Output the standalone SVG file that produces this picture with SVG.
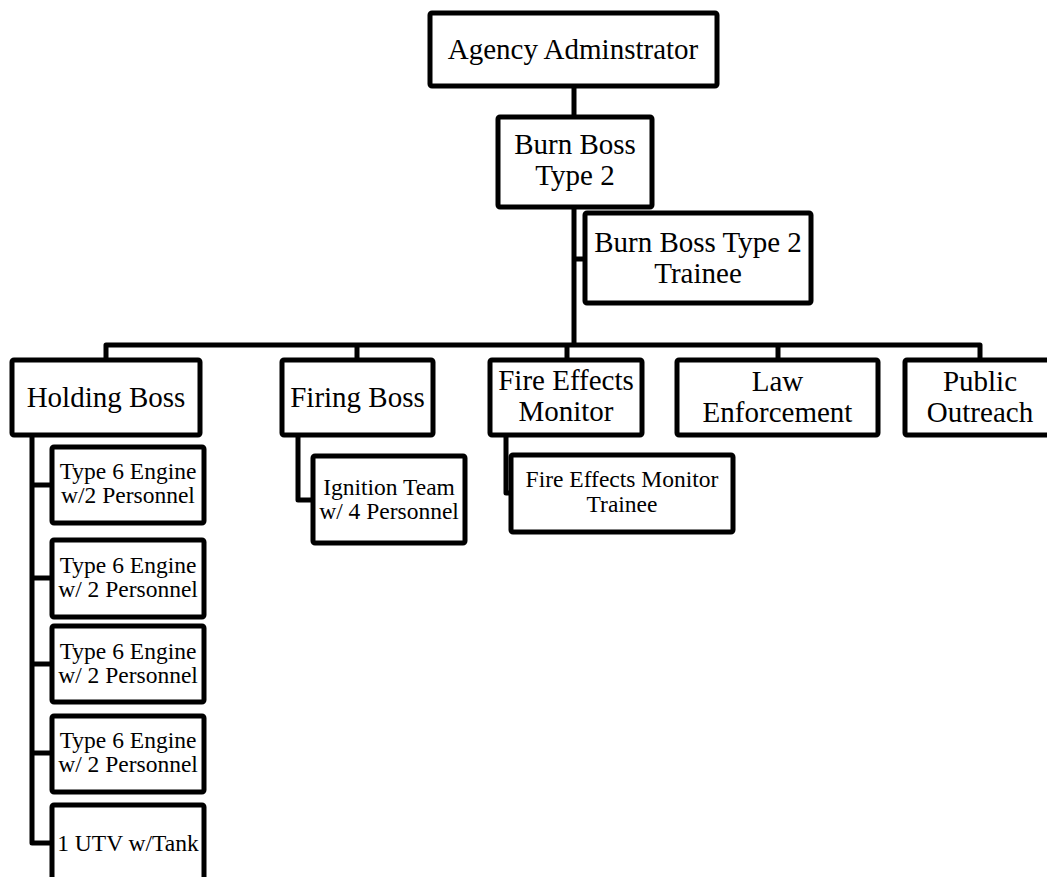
<svg xmlns="http://www.w3.org/2000/svg" width="1047" height="877" viewBox="0 0 1047 877">
<style>
.box{fill:#fff;stroke:#000;stroke-width:5;stroke-linejoin:round}
.ln{fill:none;stroke:#000;stroke-width:5;stroke-linejoin:round}
.t{font-family:"Liberation Serif","Times New Roman",serif;fill:#000;text-anchor:middle}
.big{font-size:29px}
.sm{font-size:23.5px}
</style>
<rect width="1047" height="877" fill="#fff"/>
<g id="connectors">
<path class="ln" d="M574 86 V345"/>
<path class="ln" d="M574 259 H587"/>
<path class="ln" d="M106 360 V345 H980 V360"/>
<path class="ln" d="M357 345 V360"/>
<path class="ln" d="M567 345 V360"/>
<path class="ln" d="M778 345 V360"/>
<path class="ln" d="M32 435 V843 H54"/>
<path class="ln" d="M32 485 H54"/>
<path class="ln" d="M32 578 H54"/>
<path class="ln" d="M32 664 H54"/>
<path class="ln" d="M32 753 H54"/>
<path class="ln" d="M298 435 V500 H315"/>
<path class="ln" d="M506 435 V493 H513"/>
</g>
<g id="agency">
<rect class="box" x="430" y="13" width="287" height="73" rx="2"/>
<text class="t big" x="573" y="59">Agency Adminstrator</text>
</g>
<g id="burnboss">
<rect class="box" x="498" y="117" width="154" height="90" rx="2"/>
<text class="t big" x="575" y="154">Burn Boss</text>
<text class="t big" x="575" y="185">Type 2</text>
</g>
<g id="burnboss-trainee">
<rect class="box" x="585" y="213" width="226" height="90" rx="2"/>
<text class="t big" x="698" y="252">Burn Boss Type 2</text>
<text class="t big" x="698" y="283">Trainee</text>
</g>
<g id="holding">
<rect class="box" x="12" y="360" width="188" height="75" rx="2"/>
<text class="t big" x="106" y="407">Holding Boss</text>
</g>
<g id="firing">
<rect class="box" x="282" y="360" width="151" height="75" rx="2"/>
<text class="t big" x="357.5" y="407">Firing Boss</text>
</g>
<g id="fem">
<rect class="box" x="490" y="360" width="152" height="75" rx="2"/>
<text class="t big" x="566" y="390">Fire Effects</text>
<text class="t big" x="566" y="421">Monitor</text>
</g>
<g id="law">
<rect class="box" x="677" y="360" width="201" height="75" rx="2"/>
<text class="t big" x="777.5" y="391">Law</text>
<text class="t big" x="777.5" y="422">Enforcement</text>
</g>
<g id="public">
<rect class="box" x="905" y="360" width="150" height="75" rx="2"/>
<text class="t big" x="980" y="391">Public</text>
<text class="t big" x="980" y="422">Outreach</text>
</g>
<g id="engine1">
<rect class="box" x="52" y="447" width="152" height="76" rx="2"/>
<text class="t sm" x="128" y="479">Type 6 Engine</text>
<text class="t sm" x="128" y="503">w/2 Personnel</text>
</g>
<g id="engine2">
<rect class="box" x="52" y="540" width="152" height="77" rx="2"/>
<text class="t sm" x="128" y="573">Type 6 Engine</text>
<text class="t sm" x="128" y="597">w/ 2 Personnel</text>
</g>
<g id="engine3">
<rect class="box" x="52" y="626" width="152" height="76" rx="2"/>
<text class="t sm" x="128" y="659">Type 6 Engine</text>
<text class="t sm" x="128" y="683">w/ 2 Personnel</text>
</g>
<g id="engine4">
<rect class="box" x="52" y="716" width="152" height="76" rx="2"/>
<text class="t sm" x="128" y="748">Type 6 Engine</text>
<text class="t sm" x="128" y="772">w/ 2 Personnel</text>
</g>
<g id="utv">
<rect class="box" x="52" y="805" width="152" height="77" rx="2"/>
<text class="t sm" x="128" y="851">1 UTV w/Tank</text>
</g>
<g id="ignition">
<rect class="box" x="313" y="456" width="152" height="87" rx="2"/>
<text class="t sm" x="389" y="495">Ignition Team</text>
<text class="t sm" x="389" y="519">w/ 4 Personnel</text>
</g>
<g id="fem-trainee">
<rect class="box" x="511" y="455" width="222" height="77" rx="2"/>
<text class="t sm" x="622" y="487">Fire Effects Monitor</text>
<text class="t sm" x="622" y="512">Trainee</text>
</g>
</svg>
